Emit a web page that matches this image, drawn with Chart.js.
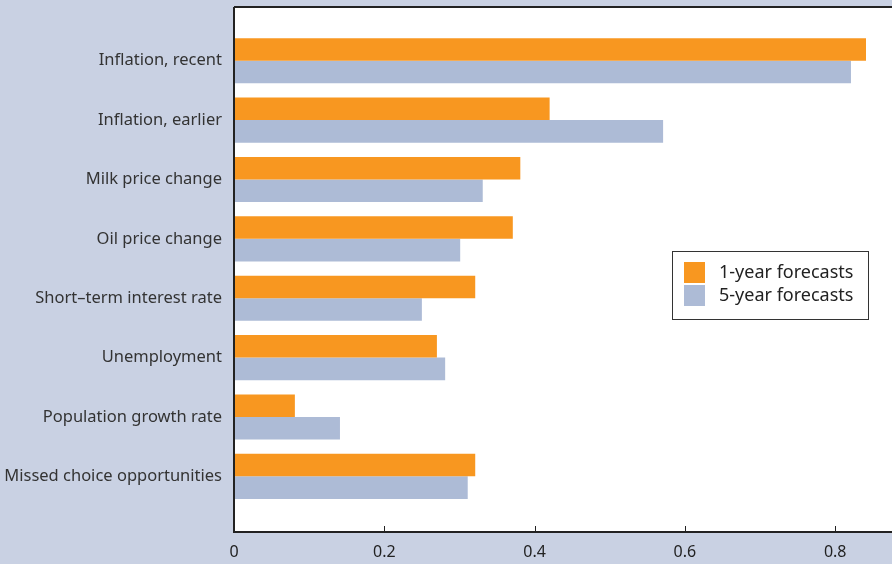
<!DOCTYPE html>
<html>
<head>
<meta charset="utf-8">
<script src="https://cdn.jsdelivr.net/npm/chart.js@4.4.1/dist/chart.umd.min.js"></script>
<style>
  html, body { margin: 0; padding: 0; background: #c9d1e3; }
  #wrap { width: 892px; height: 564px; }
</style>
</head>
<body>
<div id="wrap"><canvas id="myChart" width="892" height="564"></canvas></div>
<script>
const factors = [
    'Inflation, recent',
    'Inflation, earlier',
    'Milk price change',
    'Oil price change',
    'Short\u2013term interest rate',
    'Unemployment',
    'Population growth rate',
    'Missed choice opportunities'
];
const oneYear = [0.841, 0.420, 0.381, 0.371, 0.321, 0.270, 0.081, 0.321];
const fiveYear = [0.821, 0.571, 0.331, 0.301, 0.250, 0.281, 0.141, 0.311];
const xTicks = [0, 0.2, 0.4, 0.6, 0.8];

const FONT = '"Noto Sans", sans-serif';
const BG = '#c9d1e3';

// frame, tick marks and boxed legend
const framePlugin = {
    id: 'frame',
    beforeDraw(chart) {
        const c = chart.ctx;
        const a = chart.chartArea;
        c.save();
        c.fillStyle = BG;
        c.fillRect(0, 0, chart.width, chart.height);
        c.fillStyle = '#ffffff';
        c.fillRect(a.left, a.top - 24, a.right - a.left, a.bottom - a.top + 50);
        c.restore();
    },
    afterDraw(chart) {
        const c = chart.ctx;
        const a = chart.chartArea;
        const x = chart.scales.x;
        const top = a.top - 24;
        const bottom = a.bottom + 26;
        c.save();
        c.strokeStyle = '#222';
        c.lineWidth = 2;
        c.beginPath();
        c.moveTo(a.left, top);
        c.lineTo(a.right, top);
        c.moveTo(a.left, top);
        c.lineTo(a.left, bottom);
        c.lineTo(a.right, bottom);
        c.stroke();
        c.lineWidth = 1;
        c.beginPath();
        for (const v of xTicks) {
            if (v === 0) continue;
            const px = Math.round(x.getPixelForValue(v)) + 0.5;
            c.moveTo(px, bottom);
            c.lineTo(px, bottom - 6);
        }
        c.stroke();

        // legend
        const lx = 672.5, ly = 251.5, lw = 196, lh = 68;
        c.fillStyle = '#ffffff';
        c.fillRect(lx, ly, lw, lh);
        c.strokeStyle = '#333';
        c.strokeRect(lx, ly, lw, lh);
        c.font = '18px ' + FONT;
        c.textBaseline = 'middle';
        chart.data.datasets.forEach((ds, i) => {
            const sy = 262 + i * 23;
            c.fillStyle = ds.backgroundColor;
            c.fillRect(684, sy, 21, 21);
            c.fillStyle = '#222';
            c.fillText(ds.label, 719, sy + 11);
        });
        c.restore();
    }
};

const ctx = document.getElementById('myChart').getContext('2d');
const myChart = new Chart(ctx, {
    type: 'bar',
    data: {
        labels: factors,
        datasets: [
            {
                label: '1-year forecasts',
                data: oneYear,
                backgroundColor: '#f89720',
                borderWidth: 0
            },
            {
                label: '5-year forecasts',
                data: fiveYear,
                backgroundColor: '#adbbd6',
                borderWidth: 0
            }
        ]
    },
    options: {
        indexAxis: 'y',
        responsive: false,
        animation: false,
        layout: { padding: { top: 31, right: 0, left: 0, bottom: 0 } },
        datasets: {
            bar: { categoryPercentage: 0.76, barPercentage: 1.0 }
        },
        plugins: {
            legend: { display: false },
            tooltip: { enabled: false }
        },
        scales: {
            x: {
                min: 0,
                max: 0.8756,
                grid: { display: false, drawTicks: false },
                border: { display: false },
                afterFit(scale) { scale.height = 58; },
                afterBuildTicks(scale) {
                    scale.ticks = xTicks.map(v => ({ value: v }));
                },
                ticks: {
                    padding: 37,
                    color: '#222',
                    font: { family: FONT, size: 16 },
                    callback: v => String(v)
                }
            },
            y: {
                grid: { display: false, drawTicks: false },
                border: { display: false },
                afterFit(scale) { scale.width = 234; },
                ticks: {
                    padding: 12,
                    color: '#333',
                    font: { family: FONT, size: 16.5 }
                }
            }
        }
    },
    plugins: [framePlugin]
});
</script>
</body>
</html>
